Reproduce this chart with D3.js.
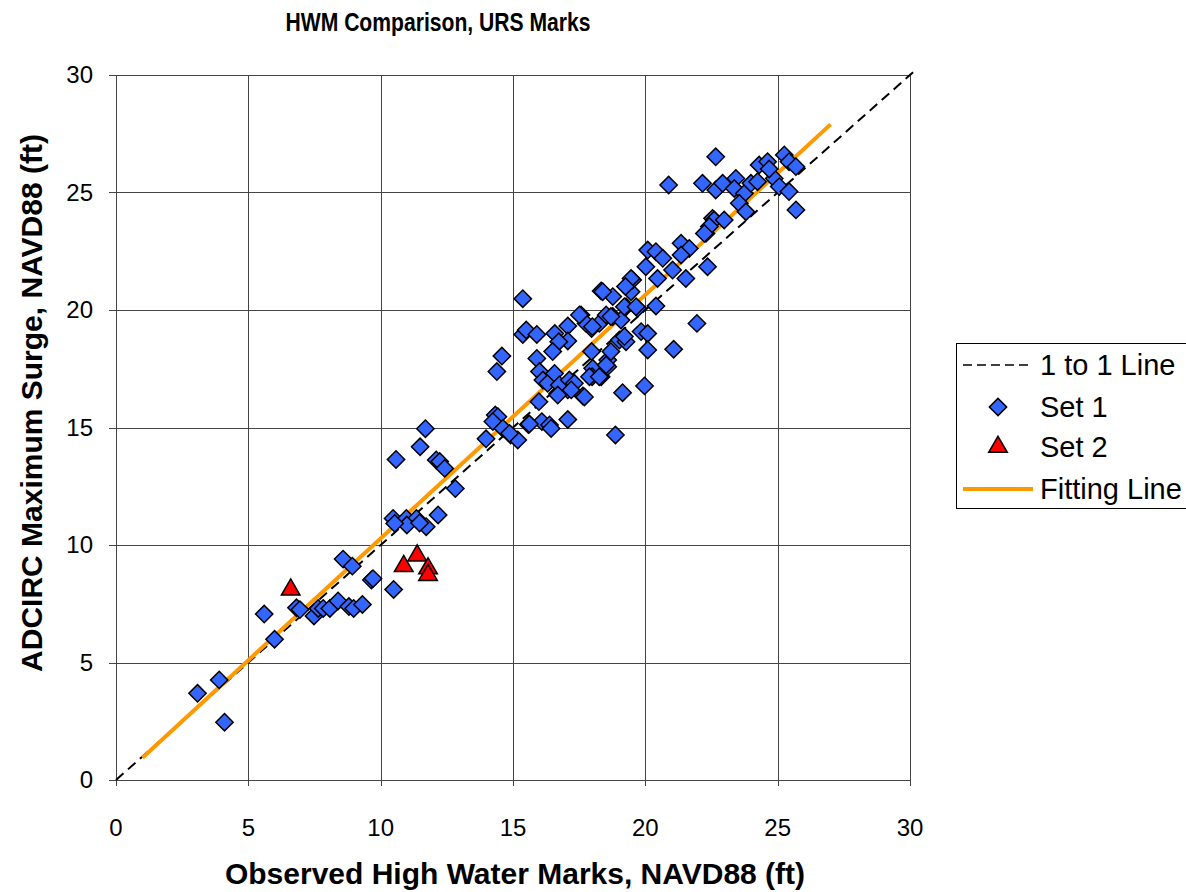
<!DOCTYPE html>
<html lang="en">
<head>
    <script src="https://d3js.org/d3.v7.min.js"></script>
    <style>
        body { margin: 0; background: #fff; }
        text { font-family: "Liberation Sans", Arial, sans-serif; }
    </style>
</head>
<body>
    <svg width="1186" height="892"></svg>
    <script>
        // Set 1 (diamonds): observed HWM vs ADCIRC surge, ft
        const set1X = [3.08, 3.9, 4.1, 5.6, 5.99, 6.82, 6.95, 7.48, 7.64, 7.83, 8.08, 8.39, 8.8, 8.98, 9.31,
            8.58, 8.93, 9.65, 9.71, 10.49,
            11.69, 11.49, 10.58, 12.1, 12.23, 12.42, 12.82, 12.17, 10.47, 10.97, 11.35, 10.99, 11.72, 10.53, 11.47,
            13.98, 14.33, 14.43, 14.24, 14.62, 14.91, 15.18, 15.58, 16.09, 16.38, 16.44, 17.07, 18.87,
            15.98, 16.69, 17.07, 17.64, 19.14,
            15.37, 14.58, 14.39, 15.37, 15.5, 15.9, 15.9, 16.0, 16.58, 17.07, 17.07, 16.73, 16.5, 17.57,
            16.13, 16.31, 16.57, 16.75, 17.13, 17.32, 17.2, 16.69, 17.7, 17.97, 18.01, 17.99, 18.33, 18.58, 18.58, 18.7,
            17.97, 18.26, 18.33, 18.77, 18.52, 18.77, 19.08, 19.27, 19.46, 19.52, 19.71, 20.4,
            19.02, 19.27, 19.84, 20.09, 20.09, 21.07, 21.95, 19.97, 14.87, 15.62, 17.76, 17.89, 18.26, 18.52,
            22.54, 22.29, 21.35, 21.66, 21.35, 20.09, 20.4, 20.66, 20.02, 21.03, 21.53, 22.35, 20.46, 19.46, 19.25,
            18.39, 19.21, 19.65, 18.7, 17.51, 18.0, 19.21,
            22.66, 20.88, 22.16, 22.66, 22.92, 23.42, 23.36, 23.74, 23.99, 24.24, 23.55, 23.8,
            24.3, 24.62, 24.87, 25.06, 25.25, 25.43, 25.69, 25.43, 25.69, 24.68, 22.6, 22.98, 22.42, 22.23];
        const set1Y = [3.69, 4.26, 2.46, 7.06, 5.99, 7.33, 7.25, 6.98, 7.3, 7.3, 7.3, 7.62, 7.38, 7.3, 7.47,
            9.4, 9.1, 8.51, 8.57, 8.11,
            14.95, 14.18, 13.64, 13.62, 13.55, 13.26, 12.4, 11.28, 11.13, 11.13, 11.13, 10.85, 10.78, 10.92, 10.94,
            14.52, 15.53, 15.46, 15.25, 14.96, 14.68, 14.47, 15.13, 15.25, 15.11, 14.96, 15.34, 14.68,
            16.1, 16.45, 16.6, 16.34, 16.48,
            20.48, 18.04, 17.38, 18.96, 19.15, 18.96, 17.94, 17.38, 19.0, 19.32, 18.68, 18.65, 18.23, 19.79,
            17.02, 16.88, 17.3, 16.81, 17.02, 16.88, 16.6, 16.38, 16.3, 18.23, 17.52, 17.16, 17.16, 17.59, 17.87, 18.23,
            19.21, 19.43, 20.81, 20.57, 19.79, 19.72, 19.57, 20.14, 20.78, 21.28, 20.07, 20.17,
            18.72, 18.65, 19.08, 19.0, 18.3, 18.33, 19.43, 16.77, 14.75, 15.15, 19.43, 17.16, 17.16, 17.66,
            23.9, 23.26, 22.84, 22.62, 22.34, 22.55, 22.48, 22.2, 21.84, 21.7, 21.34, 21.84, 21.34, 21.34, 21.0,
            20.78, 20.14, 20.14, 19.72, 19.79, 19.29, 18.87,
            26.52, 25.32, 25.39, 25.11, 25.39, 25.6, 25.17, 24.96, 25.39, 25.46, 24.54, 24.18,
            26.17, 26.31, 25.6, 25.25, 26.6, 26.31, 26.1, 25.04, 24.26, 26.0, 23.83, 23.83, 23.55, 23.26];

        // Set 2 (triangles)
        const set2X = [6.6, 10.87, 11.38, 11.79, 11.79];
        const set2Y = [8.1, 9.1, 9.55, 9.0, 8.72];

        // 1 to 1 line and fitting line end points
        const oneToOneX = [0, 30.2];
        const oneToOneY = [0, 30.2];
        const fitX = [1, 27];
        const fitY = [0.95, 27.9];

        const ticks = [0, 5, 10, 15, 20, 25, 30];

        const svg = d3.select("svg");
        const plotL = 116, plotR = 910, plotT = 75, plotB = 780;

        const x = d3.scaleLinear().domain([0, 30]).range([plotL, plotR]);
        const y = d3.scaleLinear().domain([0, 30]).range([plotB, plotT]);

        svg.append("rect").attr("width", 1186).attr("height", 892).attr("fill", "#fff");

        // grid
        const grid = svg.append("g").attr("stroke", "#444").attr("stroke-width", 1).attr("shape-rendering", "crispEdges");
        grid.selectAll(".gx").data(ticks).join("line")
            .attr("x1", d => Math.round(x(d)) + 0.5).attr("x2", d => Math.round(x(d)) + 0.5)
            .attr("y1", plotT).attr("y2", plotB + 6);
        grid.selectAll(".gy").data(ticks).join("line")
            .attr("y1", d => Math.round(y(d)) + 0.5).attr("y2", d => Math.round(y(d)) + 0.5)
            .attr("x1", plotL - 7).attr("x2", plotR);

        // tick labels
        svg.append("g").selectAll("text").data(ticks).join("text")
            .attr("x", d => x(d)).attr("y", plotB + 56)
            .attr("text-anchor", "middle").attr("font-size", 24)
            .text(d => d);
        svg.append("g").selectAll("text").data(ticks).join("text")
            .attr("x", plotL - 23).attr("y", d => y(d) + 8)
            .attr("text-anchor", "end").attr("font-size", 24)
            .text(d => d);

        const line = d3.line().x(d => x(d[0])).y(d => y(d[1]));

        svg.append("path")
            .attr("d", line(d3.zip(oneToOneX, oneToOneY)))
            .attr("stroke", "#000").attr("stroke-width", 2)
            .attr("stroke-dasharray", "10,6").attr("fill", "none");

        svg.append("path")
            .attr("d", line(d3.zip(fitX, fitY)))
            .attr("stroke", "#FF9900").attr("stroke-width", 4).attr("fill", "none");

        const diamond = d3.symbol().type(d3.symbolSquare).size(150);
        svg.append("g").selectAll("path").data(d3.zip(set1X, set1Y)).join("path")
            .attr("d", diamond)
            .attr("transform", d => `translate(${x(d[0])},${y(d[1])}) rotate(45)`)
            .attr("fill", "#3366FF").attr("stroke", "#000").attr("stroke-width", 1.5);

        const tri = d3.symbol().type(d3.symbolTriangle).size(150);
        svg.append("g").selectAll("path").data(d3.zip(set2X, set2Y)).join("path")
            .attr("d", tri)
            .attr("transform", d => `translate(${x(d[0])},${y(d[1])})`)
            .attr("fill", "#FF0000").attr("stroke", "#000").attr("stroke-width", 1.5);

        // titles
        svg.append("text").attr("x", 438).attr("y", 31)
            .attr("text-anchor", "middle").attr("font-size", 26).attr("font-weight", "bold")
            .attr("textLength", 305).attr("lengthAdjust", "spacingAndGlyphs")
            .text("HWM Comparison, URS Marks");
        svg.append("text").attr("x", 515).attr("y", 884)
            .attr("text-anchor", "middle").attr("font-size", 30).attr("font-weight", "bold")
            .text("Observed High Water Marks, NAVD88 (ft)");
        svg.append("text").attr("transform", "translate(42,403) rotate(-90)")
            .attr("text-anchor", "middle").attr("font-size", 30).attr("font-weight", "bold")
            .text("ADCIRC Maximum Surge, NAVD88 (ft)");

        // legend
        const lg = svg.append("g");
        lg.append("rect").attr("x", 956.5).attr("y", 343.5).attr("width", 240).attr("height", 165)
            .attr("fill", "#fff").attr("stroke", "#000").attr("stroke-width", 1);
        const rows = [365, 407, 447, 489];
        const labels = ["1 to 1 Line", "Set 1", "Set 2", "Fitting Line"];
        lg.append("line").attr("x1", 963).attr("x2", 1033).attr("y1", rows[0]).attr("y2", rows[0])
            .attr("stroke", "#000").attr("stroke-width", 1.5).attr("stroke-dasharray", "9,5");
        lg.append("path").attr("d", diamond).attr("transform", `translate(998,${rows[1]}) rotate(45)`)
            .attr("fill", "#3366FF").attr("stroke", "#000").attr("stroke-width", 1.5);
        lg.append("path").attr("d", tri).attr("transform", `translate(998,${rows[2]})`)
            .attr("fill", "#FF0000").attr("stroke", "#000").attr("stroke-width", 1.5);
        lg.append("line").attr("x1", 963).attr("x2", 1033).attr("y1", rows[3]).attr("y2", rows[3])
            .attr("stroke", "#FF9900").attr("stroke-width", 4);
        lg.selectAll("text").data(labels).join("text")
            .attr("x", 1040).attr("y", (d, i) => rows[i] + 10)
            .attr("font-size", 29).text(d => d);
    </script>
</body>
</html>
